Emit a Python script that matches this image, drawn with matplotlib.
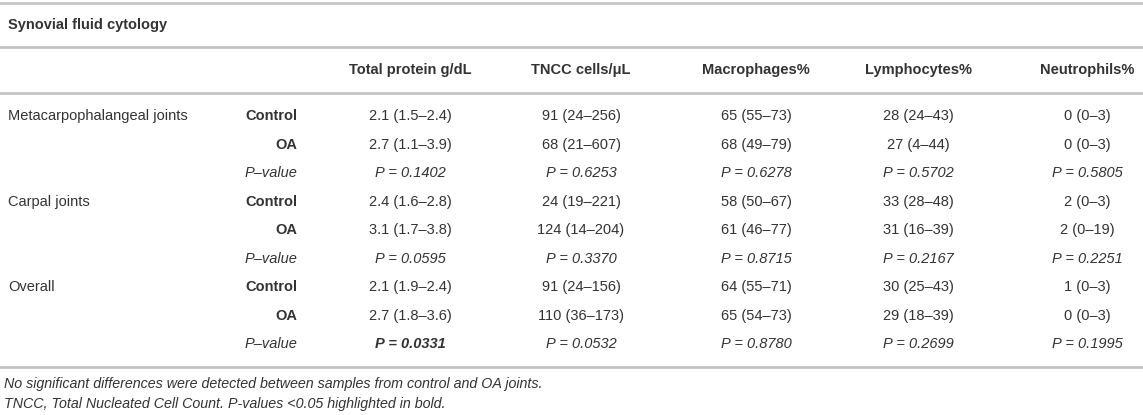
import matplotlib.pyplot as plt

# Table content
title = "Synovial fluid cytology"
columns = ["Total protein g/dL", "TNCC cells/\u03bcL", "Macrophages%", "Lymphocytes%", "Neutrophils%"]
joints = ["Metacarpophalangeal joints", "Carpal joints", "Overall"]
groups = ["Control", "OA", "P\u2013value"]

protein = ["2.1 (1.5\u20132.4)", "2.7 (1.1\u20133.9)", "P = 0.1402",
           "2.4 (1.6\u20132.8)", "3.1 (1.7\u20133.8)", "P = 0.0595",
           "2.1 (1.9\u20132.4)", "2.7 (1.8\u20133.6)", "P = 0.0331"]
tncc = ["91 (24\u2013256)", "68 (21\u2013607)", "P = 0.6253",
        "24 (19\u2013221)", "124 (14\u2013204)", "P = 0.3370",
        "91 (24\u2013156)", "110 (36\u2013173)", "P = 0.0532"]
macrophages = ["65 (55\u201373)", "68 (49\u201379)", "P = 0.6278",
               "58 (50\u201367)", "61 (46\u201377)", "P = 0.8715",
               "64 (55\u201371)", "65 (54\u201373)", "P = 0.8780"]
lymphocytes = ["28 (24\u201343)", "27 (4\u201344)", "P = 0.5702",
               "33 (28\u201348)", "31 (16\u201339)", "P = 0.2167",
               "30 (25\u201343)", "29 (18\u201339)", "P = 0.2699"]
neutrophils = ["0 (0\u20133)", "0 (0\u20133)", "P = 0.5805",
               "2 (0\u20133)", "2 (0\u201319)", "P = 0.2251",
               "1 (0\u20133)", "0 (0\u20133)", "P = 0.1995"]
significant = 0.05

footnotes = ["No significant differences were detected between samples from control and OA joints.",
             "TNCC, Total Nucleated Cell Count. P-values <0.05 highlighted in bold."]

plt.rcParams['font.family'] = ['Liberation Sans', 'DejaVu Sans']
W, H = 1143, 415
fig = plt.figure(figsize=(W / 100, H / 100), dpi=100)
ax = fig.add_axes([0, 0, 1, 1])
ax.set_xlim(0, W)
ax.set_ylim(H, 0)
ax.axis('off')

txt = '#333333'
line_c = '#c4c4c4'
fs = 10.5

# horizontal rules
for y in [3, 47, 93, 367]:
    ax.axhline(y, color=line_c, lw=2)

ax.text(8, 25, title, fontsize=fs, fontweight='bold', color=txt, va='center')

col_x = [410, 581, 756, 918, 1087]
for x, c in zip(col_x, columns):
    ax.text(x, 70, c, fontsize=fs, fontweight='bold', color=txt, ha='center', va='center')

row_y0, row_h = 116, 28.5
data_cols = [protein, tncc, macrophages, lymphocytes, neutrophils]
for j, joint in enumerate(joints):
    ax.text(8, row_y0 + 3 * j * row_h, joint, fontsize=fs, color=txt, va='center')
    for g, grp in enumerate(groups):
        r = 3 * j + g
        y = row_y0 + r * row_h
        is_p = g == 2
        ax.text(297, y, grp, fontsize=fs, color=txt, ha='right', va='center',
                fontweight='normal' if is_p else 'bold',
                style='italic' if is_p else 'normal')
        for x, col in zip(col_x, data_cols):
            val = col[r]
            bold = is_p and float(val.split('=')[1]) < significant
            ax.text(x, y, val, fontsize=fs, color=txt, ha='center', va='center',
                    style='italic' if is_p else 'normal',
                    fontweight='bold' if bold else 'normal')

for i, fn in enumerate(footnotes):
    ax.text(4, 384 + i * 20, fn, fontsize=10.3, color=txt, style='italic', va='center')

fig.savefig('out.png', dpi=100)
